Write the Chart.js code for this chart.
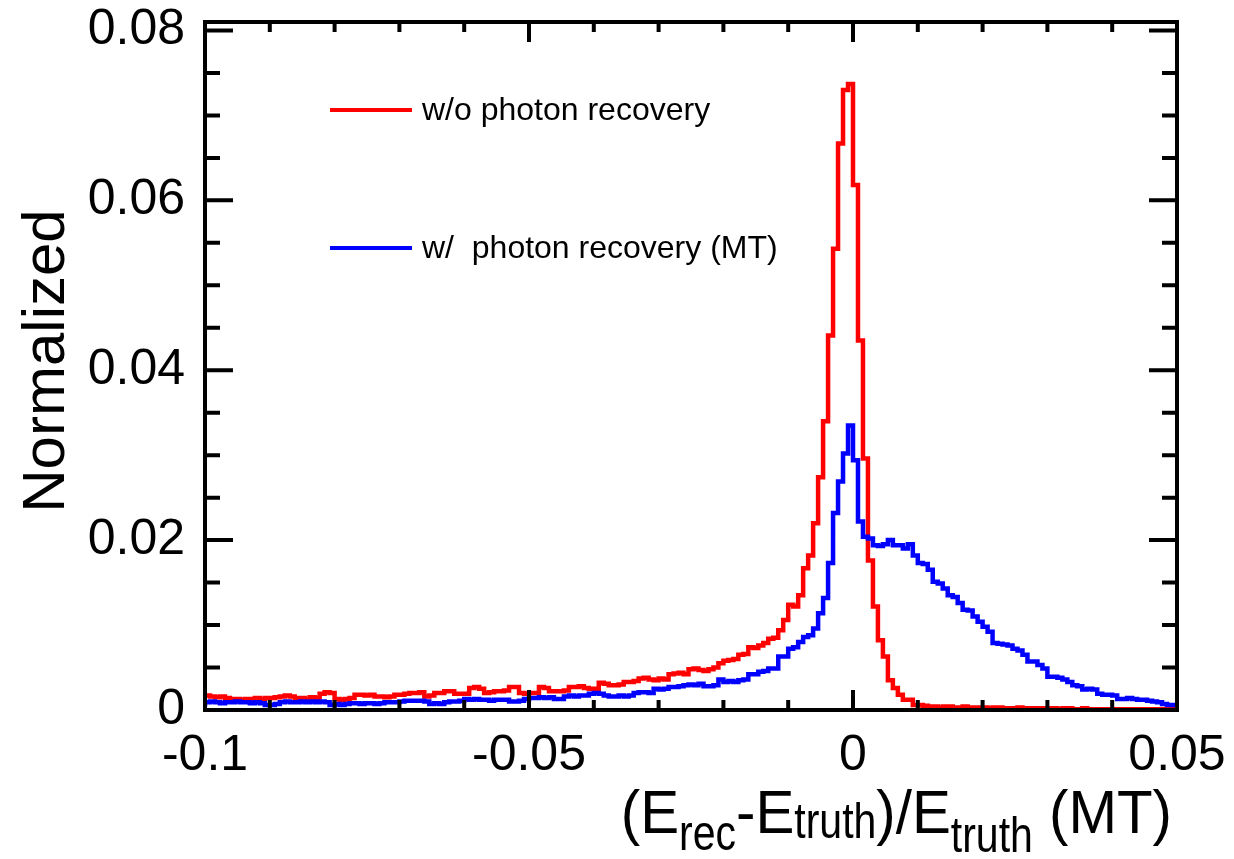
<!DOCTYPE html>
<html>
<head>
<meta charset="utf-8">
<script src="https://cdn.jsdelivr.net/npm/chart.js@4.4.1/dist/chart.umd.min.js"></script>
<style>
  html, body { margin: 0; padding: 0; background: #fff; }
  #wrap { width: 1234px; height: 859px; position: relative; }
</style>
</head>
<body>
<div id="wrap"><canvas id="chart"></canvas></div>
<script>
// histogram binning: 195 bins on [-0.1, 0.05]
const xMin = -0.1;
const xMax = 0.05;
const nBins = 195;
const yMin = 0;
const yMax = 0.081;

const xTicks = [-0.1, -0.05, 0, 0.05];
const xTickLabels = ['-0.1', '-0.05', '0', '0.05'];
const yTicks = [0, 0.02, 0.04, 0.06, 0.08];
const yTickLabels = ['0', '0.02', '0.04', '0.06', '0.08'];

const seriesNames = ['w/o photon recovery', 'w/  photon recovery (MT)'];

// w/o photon recovery (red)
const noRecovery = [
  0.0016,0.0017,0.0016,0.0015,0.0016,0.0014,0.0013,0.0013,0.0012,0.0013,
  0.0013,0.0014,0.0013,0.0014,0.0014,0.0015,0.0016,0.0017,0.0016,0.0014,
  0.0014,0.0013,0.0015,0.0014,0.0019,0.0021,0.0020,0.0013,0.0012,0.0013,
  0.0014,0.0018,0.0018,0.0017,0.0018,0.0016,0.0016,0.0015,0.0016,0.0018,
  0.0018,0.0019,0.0020,0.0020,0.0021,0.0016,0.0017,0.0020,0.0020,0.0022,
  0.0022,0.0019,0.0019,0.0019,0.0026,0.0027,0.0025,0.0020,0.0021,0.0022,
  0.0022,0.0023,0.0027,0.0027,0.0020,0.0019,0.0020,0.0020,0.0027,0.0026,
  0.0022,0.0022,0.0022,0.0023,0.0027,0.0027,0.0028,0.0026,0.0025,0.0025,
  0.0032,0.0031,0.0029,0.0029,0.0030,0.0033,0.0033,0.0034,0.0037,0.0038,
  0.0036,0.0035,0.0037,0.0036,0.0042,0.0043,0.0044,0.0042,0.0048,0.0049,
  0.0047,0.0046,0.0048,0.0050,0.0055,0.0058,0.0059,0.0060,0.0065,0.0066,
  0.0074,0.0073,0.0076,0.0079,0.0084,0.0085,0.0094,0.0106,0.0124,0.0122,
  0.0135,0.0167,0.0182,0.0220,0.0274,0.0340,0.0441,0.0543,0.0667,0.0730,
  0.0737,0.0618,0.0435,0.0296,0.0176,0.0122,0.0082,0.0063,0.0035,0.0026,
  0.0018,0.0012,0.0012,0.0006,0.0006,0.0005,0.0004,0.0004,0.0003,0.0004,
  0.0004,0.0003,0.0003,0.0004,0.0003,0.0003,0.0003,0.0003,0.0002,0.0003,
  0.0003,0.0002,0.0002,0.0002,0.0003,0.0002,0.0002,0.0002,0.0002,0.0002,
  0.0002,0.0002,0.0001,0.0002,0.0002,0.0001,0.0001,0.0002,0.0001,0.0001,
  0.0001,0.0001,0.0001,0.0001,0.0001,0.0001,0.0001,0.0001,0.0001,0.0001,
  0.0001,0.0001,0.0001,0.0001,0.0001
];

// w/ photon recovery (MT) (blue)
const withRecovery = [
  0.0004,0.0009,0.0010,0.0009,0.0008,0.0009,0.0009,0.0010,0.0009,0.0009,
  0.0008,0.0009,0.0008,0.0006,0.0006,0.0007,0.0009,0.0010,0.0009,0.0009,
  0.0010,0.0009,0.0010,0.0009,0.0010,0.0009,0.0006,0.0007,0.0006,0.0007,
  0.0008,0.0008,0.0007,0.0008,0.0008,0.0007,0.0008,0.0009,0.0009,0.0009,
  0.0010,0.0011,0.0011,0.0011,0.0011,0.0010,0.0007,0.0008,0.0007,0.0009,
  0.0010,0.0010,0.0011,0.0013,0.0012,0.0013,0.0012,0.0012,0.0011,0.0012,
  0.0012,0.0012,0.0010,0.0010,0.0011,0.0013,0.0014,0.0014,0.0015,0.0014,
  0.0015,0.0013,0.0013,0.0016,0.0017,0.0016,0.0017,0.0017,0.0019,0.0020,
  0.0019,0.0017,0.0016,0.0016,0.0017,0.0016,0.0017,0.0020,0.0021,0.0021,
  0.0020,0.0025,0.0024,0.0025,0.0027,0.0027,0.0028,0.0029,0.0030,0.0029,
  0.0031,0.0028,0.0028,0.0029,0.0036,0.0033,0.0034,0.0033,0.0035,0.0036,
  0.0042,0.0042,0.0045,0.0046,0.0049,0.0049,0.0063,0.0063,0.0072,0.0074,
  0.0080,0.0086,0.0088,0.0096,0.0114,0.0132,0.0173,0.0232,0.0269,0.0302,
  0.0335,0.0294,0.0222,0.0204,0.0202,0.0194,0.0193,0.0195,0.0200,0.0194,
  0.0194,0.0190,0.0195,0.0182,0.0173,0.0172,0.0165,0.0151,0.0149,0.0143,
  0.0135,0.0133,0.0126,0.0118,0.0117,0.0110,0.0104,0.0098,0.0092,0.0079,
  0.0078,0.0077,0.0076,0.0072,0.0070,0.0065,0.0057,0.0057,0.0053,0.0049,
  0.0039,0.0039,0.0038,0.0036,0.0033,0.0029,0.0028,0.0024,0.0025,0.0024,
  0.0019,0.0018,0.0018,0.0017,0.0013,0.0013,0.0014,0.0013,0.0012,0.0012,
  0.0011,0.0010,0.0009,0.0007,0.0006
];

const FONT = '"Liberation Sans", Arial, Helvetica, sans-serif';
const RED = '#ff0000';
const BLUE = '#0000ff';

// step points at the left edge of each bin, plus the closing right edge
const binEdge = (i) => xMin + i * (xMax - xMin) / nBins;
const toSteps = (vals) => vals.map((v, i) => ({ x: binEdge(i), y: v }))
  .concat([{ x: xMax, y: vals[vals.length - 1] }]);

// ROOT style frame, inward ticks, legend and axis titles
const rootFrame = {
  id: 'rootFrame',
  afterDatasetsDraw(chart) {
    const { ctx, chartArea: a, scales } = chart;
    const xs = scales.x, ys = scales.y;
    ctx.save();
    ctx.strokeStyle = '#000';
    ctx.lineWidth = 4;
    ctx.lineCap = 'butt';

    // x ticks, every 0.01, major every 0.05
    for (let k = 0; k <= 15; k++) {
      const v = xMin + k * 0.01;
      const major = Math.abs(v / 0.05 - Math.round(v / 0.05)) < 1e-6;
      const len = major ? 20 : 10;
      const px = xs.getPixelForValue(v);
      ctx.beginPath();
      ctx.moveTo(px, a.bottom); ctx.lineTo(px, a.bottom - len);
      ctx.moveTo(px, a.top); ctx.lineTo(px, a.top + len);
      ctx.stroke();
    }
    // y ticks, every 0.005, major every 0.02
    for (let k = 0; k <= 16; k++) {
      const v = k * 0.005;
      const major = k % 4 === 0;
      const len = major ? 28 : 15;
      const py = ys.getPixelForValue(v);
      ctx.beginPath();
      ctx.moveTo(a.left, py); ctx.lineTo(a.left + len, py);
      ctx.moveTo(a.right, py); ctx.lineTo(a.right - len, py);
      ctx.stroke();
    }
    ctx.strokeRect(a.left, a.top, a.right - a.left, a.bottom - a.top);

    // legend
    const legend = [[RED, seriesNames[0], 88], [BLUE, seriesNames[1], 226]];
    ctx.font = '32px ' + FONT;
    ctx.textBaseline = 'middle';
    ctx.textAlign = 'left';
    ctx.fillStyle = '#000';
    legend.forEach(([c, label, dy]) => {
      ctx.strokeStyle = c;
      ctx.lineWidth = 4;
      ctx.beginPath();
      ctx.moveTo(a.left + 125, a.top + dy);
      ctx.lineTo(a.left + 207, a.top + dy);
      ctx.stroke();
      ctx.fillText(label, a.left + 217, a.top + dy + 1);
    });

    // y title
    ctx.save();
    ctx.translate(47, (a.top + a.bottom) / 2 - 5);
    ctx.rotate(-Math.PI / 2);
    ctx.font = '60px ' + FONT;
    ctx.textAlign = 'center';
    ctx.textBaseline = 'middle';
    ctx.fillText('Normalized', 0, 0);
    ctx.restore();

    // x title: (E_rec-E_truth)/E_truth (MT)
    const pieces = [
      ['(E', 62, 0, 0.94], ['rec', 50, 17, 0.82], ['-E', 62, 0, 0.94], ['truth', 50, 5, 0.82],
      [')/E', 62, 0, 0.94], ['truth', 50, 19, 0.82], [' (MT)', 62, 0, 0.94]
    ];
    ctx.textAlign = 'left';
    ctx.textBaseline = 'alphabetic';
    let total = 0;
    pieces.forEach(p => { ctx.font = p[1] + 'px ' + FONT; total += ctx.measureText(p[0]).width * p[3]; });
    let cx = a.right - 5 - total;
    const base = a.bottom + 123;
    pieces.forEach(([t, size, dy, sx]) => {
      ctx.font = size + 'px ' + FONT;
      ctx.save();
      ctx.translate(cx, base + dy);
      ctx.scale(sx, 1);
      ctx.fillText(t, 0, 0);
      ctx.restore();
      cx += ctx.measureText(t).width * sx;
    });
    ctx.restore();
  }
};

// drop the extra room Chart.js reserves for the end labels
const noScalePadding = (s) => {
  s.paddingTop = 0; s.paddingBottom = 0; s.paddingLeft = 0; s.paddingRight = 0;
};

new Chart(document.getElementById('chart'), {
  type: 'line',
  data: {
    datasets: [
      {
        label: seriesNames[1],
        data: toSteps(withRecovery),
        borderColor: BLUE,
        borderWidth: 4.5,
        stepped: 'after',
        pointRadius: 0,
        fill: false,
        order: 0,
      },
      {
        label: seriesNames[0],
        data: toSteps(noRecovery),
        borderColor: RED,
        borderWidth: 4.5,
        stepped: 'after',
        pointRadius: 0,
        fill: false,
        order: 1,
      },
    ],
  },
  options: {
    responsive: true,
    maintainAspectRatio: false,
    animation: false,
    layout: { padding: { top: 22, right: 57, left: 0, bottom: 0 } },
    plugins: { legend: { display: false }, tooltip: { enabled: false } },
    scales: {
      x: {
        type: 'linear',
        min: xMin,
        max: xMax,
        afterBuildTicks: (s) => { s.ticks = xTicks.map((v) => ({ value: v })); },
        afterFit: (s) => { s.height = 149; noScalePadding(s); },
        grid: { display: false, drawTicks: false },
        border: { display: false },
        ticks: {
          color: '#000',
          font: { family: FONT, size: 50 },
          padding: 16,
          maxRotation: 0,
          autoSkip: false,
          callback: (v, i) => xTickLabels[i],
        },
      },
      y: {
        type: 'linear',
        min: yMin,
        max: yMax,
        afterBuildTicks: (s) => { s.ticks = yTicks.map((v) => ({ value: v })); },
        afterFit: (s) => { s.width = 205; noScalePadding(s); },
        grid: { display: false, drawTicks: false },
        border: { display: false },
        ticks: {
          color: '#000',
          font: { family: FONT, size: 50 },
          padding: 20,
          callback: (v, i) => yTickLabels[i],
        },
      },
    },
  },
  plugins: [rootFrame],
});
</script>
</body>
</html>
